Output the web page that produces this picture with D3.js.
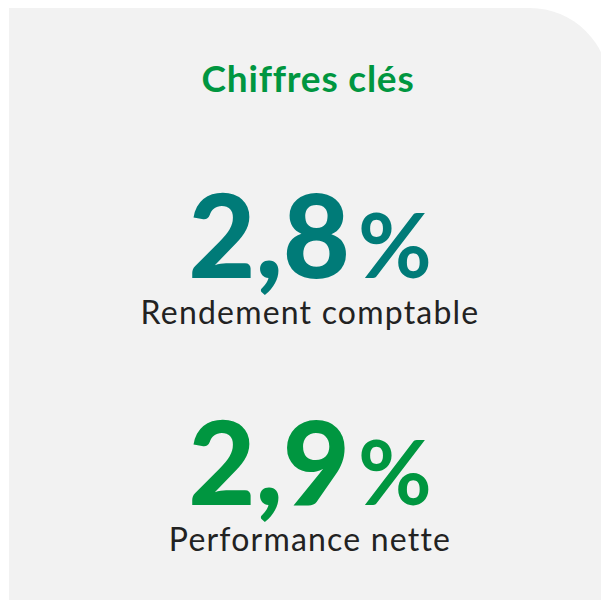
<!DOCTYPE html>
<html>
<head>
<meta charset="utf-8">
<script src="https://cdn.jsdelivr.net/npm/d3@7"></script>
<style>
  body { margin: 0; background: #fff; }
  svg { display: block; }
</style>
</head>
<body>
<div class="chart"></div>
<script>
// key figures
const title = 'Chiffres clés'
const values = [2.8, 2.9]
const labels = ['Rendement comptable', 'Performance nette']
const colors = ['#007b78', '#009640']

const width = 601
const height = 600

const fr = d3.formatLocale({decimal: ',', thousands: ' ', grouping: [3], currency: ['', ' €']})
const fmt = fr.format('.1f')

const svg = d3
  .select('.chart')
  .append('svg')
  .attr('width', width)
  .attr('height', height)

// panel with big rounded top-right corner
const px = 9, py = 8, pr = 609, r = 79
svg
  .append('path')
  .attr('d', 'M' + px + ',' + py + ' H' + (pr - r) + ' A' + r + ',' + r + ' 0 0 1 ' + pr + ',' + (py + r) + ' V' + height + ' H' + px + ' Z')
  .attr('fill', '#f2f2f2')

svg
  .append('text')
  .attr('x', 308)
  .attr('y', 92)
  .attr('text-anchor', 'middle')
  .style('font-family', 'Lato, sans-serif')
  .style('font-weight', 700)
  .style('font-size', '37px')
  .style('letter-spacing', '0.8px')
  .attr('fill', '#009640')
  .text(title)

const y = d3.scaleBand().domain(d3.range(values.length)).range([180, 634])

const g = svg
  .selectAll('.fig')
  .data(values)
  .enter()
  .append('g')
  .attr('class', 'fig')
  .attr('transform', (d, i) => 'translate(310,' + y(i) + ')')

const big = g
  .append('text')
  .attr('y', 98)
  .attr('text-anchor', 'middle')
  .style('font-family', 'Lato, sans-serif')
  .style('font-weight', 900)
  .attr('fill', (d, i) => colors[i])

big
  .append('tspan')
  .style('font-size', '116px')
  .text(d => fmt(d))

big
  .append('tspan')
  .attr('dx', 8)
  .style('font-size', '90px')
  .style('font-weight', 700)
  .text('%')

g
  .append('text')
  .attr('y', 144)
  .attr('text-anchor', 'middle')
  .style('font-family', 'Lato, sans-serif')
  .style('font-size', '32px')
  .style('letter-spacing', '1.2px')
  .attr('fill', '#222')
  .text((d, i) => labels[i])
</script>
</body>
</html>
